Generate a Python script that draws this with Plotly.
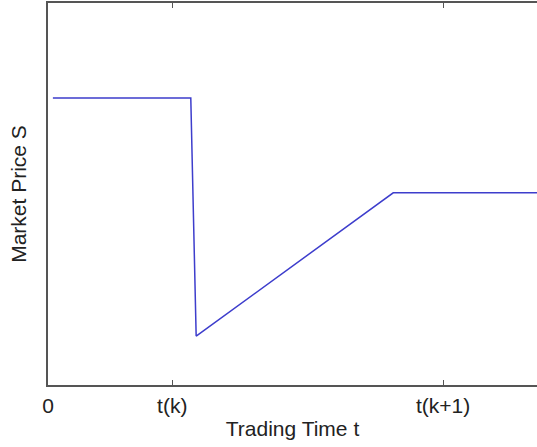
import plotly.graph_objects as go

# Data (arbitrary units)
time_t = [0.1, 2.92, 3.03, 7.06, 10.0]
price_s = [0.751, 0.751, 0.128, 0.503, 0.503]
tick_vals = [0, 2.54, 8.08]
tick_text = ["0", "t(k)", "t(k+1)"]

fig = go.Figure()
fig.add_trace(go.Scatter(x=time_t, y=price_s, mode="lines",
                         line=dict(color="#3d3dcc", width=1.5),
                         showlegend=False, hoverinfo="skip"))

font = dict(family="Liberation Sans, Arial, sans-serif", size=21, color="#222222")
fig.update_layout(
    width=537, height=447,
    margin=dict(l=48, r=0, t=3, b=62),
    plot_bgcolor="white", paper_bgcolor="white",
    font=font,
    xaxis=dict(range=[0, 10], showgrid=False, zeroline=False,
               showline=True, linecolor="#555555", linewidth=1.5, mirror="ticks",
               ticks="inside", ticklen=5, tickwidth=1, tickcolor="#555555",
               tickvals=tick_vals, ticktext=tick_text,
               ticklabelstandoff=1,
               title=dict(text="Trading Time t", standoff=5, font=font)),
    yaxis=dict(range=[0, 1], showgrid=False, zeroline=False,
               showline=True, linecolor="#555555", linewidth=1.5,
               ticks="", showticklabels=False,
               title=dict(text="Market Price S", standoff=14, font=font)),
)
fig.write_html("out.html")
